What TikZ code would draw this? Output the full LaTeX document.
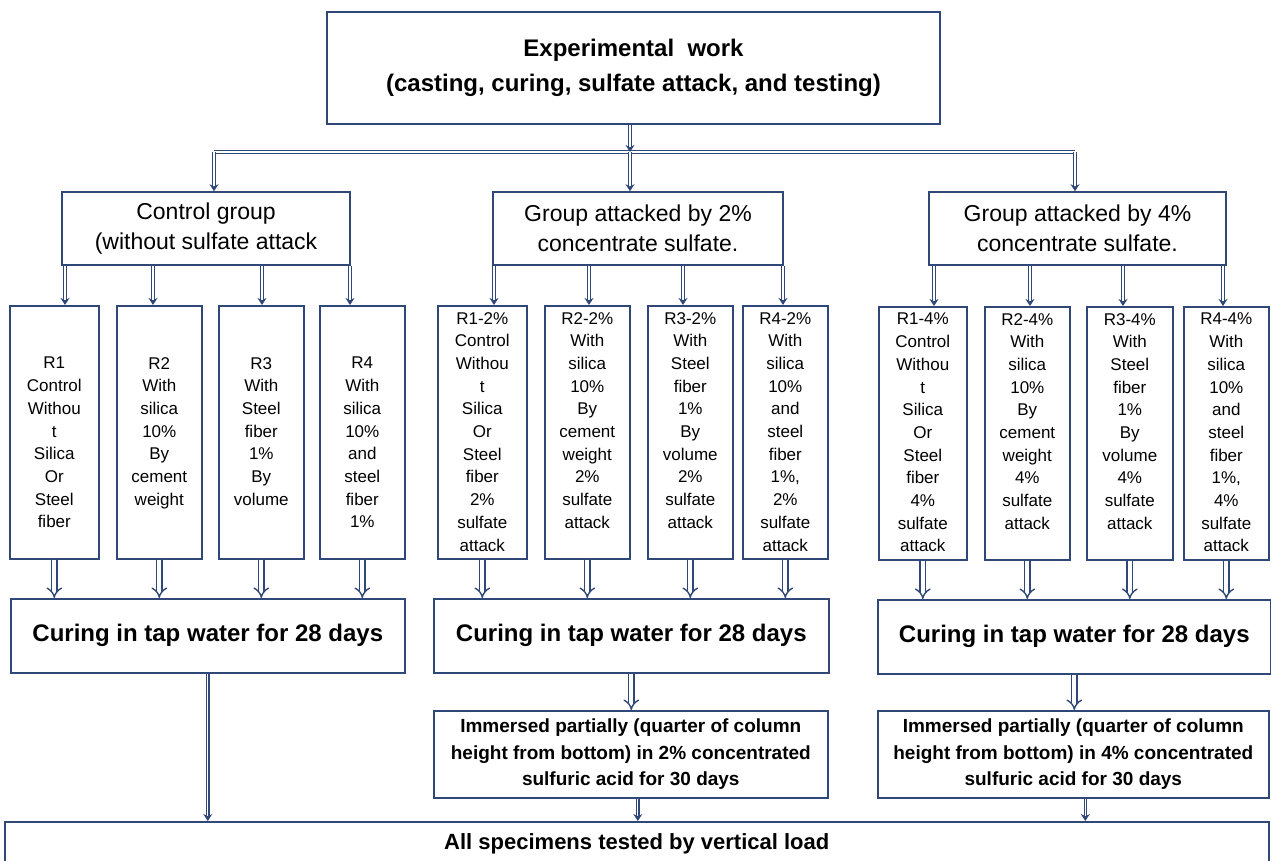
\documentclass[tikz,border=0pt]{standalone}
\usepackage{fontspec}
\setmainfont{Liberation Sans}
\usetikzlibrary{arrows.meta}
\definecolor{navy}{RGB}{47,72,120}
\begin{document}
\begin{tikzpicture}[x=1pt,y=-1pt,
    box/.style={draw=navy,line width=1.6pt,inner sep=0pt,anchor=north west,align=center},
    cell/.style={box,minimum height=253},
    celltxt/.style={anchor=north,inner sep=0pt,align=center,font=\fontsize{17}{22.7}\selectfont},
    grp/.style={box,anchor=center,minimum height=73,font=\fontsize{23}{30}\selectfont},
    big/.style={font=\fontsize{24}{35}\selectfont\bfseries},
    bus/.style={draw=navy,line width=1.2pt,double=white,double distance=1.1pt},
    link/.style={bus,-{Stealth[length=7pt,width=9pt]}},
    pipe/.style={draw=navy,line width=1.4pt,double=white,double distance=4pt,-{Implies}}]
  \useasboundingbox (0,0) rectangle (1271,861);
  % title and the three groups
  \node[box,big,anchor=center,minimum width=613,minimum height=112] (work) at (633.5,68)
    {Experimental\ \ work\\(casting, curing, sulfate attack, and testing)};
  \node[grp,minimum width=288] (g1) at (206,228.5) {Control group\\(without sulfate attack};
  \node[grp,minimum width=290] (g2) at (638,228.5) {Group attacked by 2\%\\concentrate sulfate.};
  \node[grp,minimum width=297] (g3) at (1077.5,228.5) {Group attacked by 4\%\\concentrate sulfate.};
  \coordinate (bl) at (214,152);
  \coordinate (bm) at (630,152);
  \coordinate (br) at (1075,152);
  \draw[bus] (bl) -- (br);
  \draw[link] (work.south -| bm) -- (bm);
  \draw[link] (bm) -- (bm |- g2.north);
  \draw[link] (bl) -- (bl |- g1.north);
  \draw[link] (br) -- (br |- g3.north);
  % (a) control specimens
  \foreach \i/\xa/\xb/\txt in {1/9/98/{R1\\Control\\Withou\\t\\Silica\\Or\\Steel\\fiber},
      2/116/201/{R2\\With\\silica\\10\%\\By\\cement\\weight},
      3/218/303/{R3\\With\\Steel\\fiber\\1\%\\By\\volume},
      4/319/404/{R4\\With\\silica\\10\%\\and\\steel\\fiber\\1\%}}{
    \node[cell,minimum width={\xb-\xa}] (ctl\i) at (\xa,305) {};
    \node[celltxt] (ctlt\i) at ([yshift=-52pt]ctl\i.north) {\txt};
  }
  \foreach \x [count=\i] in {65,153,262,350}{
    \draw[link] (g1.south -| \x,0) -- (ctl\i.north -| \x,0);
  }
  % (b) 2% sulfate specimens
  \foreach \i/\xa/\xb/\txt in {1/437/526/{R1-2\%\\Control\\Withou\\t\\Silica\\Or\\Steel\\fiber\\2\%\\sulfate\\attack},
      2/544/629/{R2-2\%\\With\\silica\\10\%\\By\\cement\\weight\\2\%\\sulfate\\attack},
      3/647/732/{R3-2\%\\With\\Steel\\fiber\\1\%\\By\\volume\\2\%\\sulfate\\attack},
      4/742/827/{R4-2\%\\With\\silica\\10\%\\and\\steel\\fiber\\1\%,\\2\%\\sulfate\\attack}}{
    \node[cell,minimum width={\xb-\xa}] (two\i) at (\xa,305) {};
    \node[celltxt] (twot\i) at ([yshift=-7pt]two\i.north) {\txt};
  }
  \foreach \x [count=\i] in {494,589,683,783}{
    \draw[link] (g2.south -| \x,0) -- (two\i.north -| \x,0);
  }
  % (c) 4% sulfate specimens
  \foreach \i/\xa/\xb/\txt in {1/878/966/{R1-4\%\\Control\\Withou\\t\\Silica\\Or\\Steel\\fiber\\4\%\\sulfate\\attack},
      2/984/1069/{R2-4\%\\With\\silica\\10\%\\By\\cement\\weight\\4\%\\sulfate\\attack},
      3/1086/1172/{R3-4\%\\With\\Steel\\fiber\\1\%\\By\\volume\\4\%\\sulfate\\attack},
      4/1183/1268/{R4-4\%\\With\\silica\\10\%\\and\\steel\\fiber\\1\%,\\4\%\\sulfate\\attack}}{
    \node[cell,minimum width={\xb-\xa}] (four\i) at (\xa,306) {};
    \node[celltxt] (fourt\i) at ([yshift=-7pt]four\i.north) {\txt};
  }
  \foreach \x [count=\i] in {934,1030,1123,1223}{
    \draw[link] (g3.south -| \x,0) -- (four\i.north -| \x,0);
  }
  % curing, immersion and testing
  \node[box,big,minimum width=394,minimum height=74] (cur1) at (10,598) {Curing in tap water for 28 days};
  \node[box,big,minimum width=395,minimum height=74] (cur2) at (433,598) {Curing in tap water for 28 days};
  \node[box,big,minimum width=393,minimum height=74] (cur3) at (877,599) {Curing in tap water for 28 days};
  \foreach \i in {1,...,4}{
    \draw[pipe] (ctl\i.south) -- (ctl\i.south |- cur1.north);
    \draw[pipe] (two\i.south) -- (two\i.south |- cur2.north);
    \draw[pipe] (four\i.south) -- (four\i.south |- cur3.north);
  }
  \node[box,minimum width=394,minimum height=87,font=\fontsize{19}{26.5}\selectfont\bfseries] (imm2) at (433,710)
    {Immersed partially (quarter of column\\height from bottom) in 2\% concentrated\\sulfuric acid for 30 days};
  \node[box,minimum width=391,minimum height=87,font=\fontsize{19}{26.5}\selectfont\bfseries] (imm3) at (877,710)
    {Immersed partially (quarter of column\\height from bottom) in 4\% concentrated\\sulfuric acid for 30 days};
  \draw[pipe] (cur2.south) -- (cur2.south |- imm2.north);
  \draw[pipe] (cur3.south) -- (cur3.south |- imm3.north);
  \node[box,minimum width=1264,minimum height=45,font=\fontsize{22}{26}\selectfont\bfseries] (load) at (4,821)
    {All specimens tested by vertical load};
  \draw[link] (cur1.south) -- (cur1.south |- load.north);
  \draw[link] ([xshift=7pt]imm2.south) -- ([xshift=7pt]imm2.south |- load.north);
  \draw[link] ([xshift=12pt]imm3.south) -- ([xshift=12pt]imm3.south |- load.north);
\end{tikzpicture}
\end{document}
